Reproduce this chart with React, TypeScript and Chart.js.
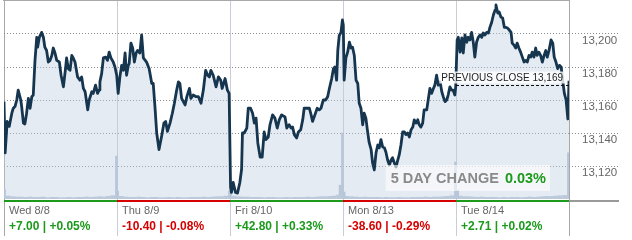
import React, { useEffect, useRef } from "react";
import { Chart, registerables } from "chart.js";

Chart.register(...registerables);

// ---------- data ----------
const dayLabels = ["Wed 8/8", "Thu 8/9", "Fri 8/10", "Mon 8/13", "Tue 8/14"];
// session minutes (390 minutes per trading day)
const dayStarts = [0, 390, 780, 1170, 1560, 1950];
const dayChanges = [7.0, -10.4, 42.8, -38.6, 2.71];
const dayPctChanges = [0.05, -0.08, 0.33, -0.29, 0.02];
const previousClose = 13169;
const fiveDayChangePct = 0.03;
const yTickValues = [13120, 13140, 13160, 13180, 13200];

const times = [
  0, 4, 11, 18, 27, 32, 38, 44, 49, 58, 61, 67, 72, 78, 84, 90, 96, 101, 107, 113, 116, 122, 130, 136, 141, 147, 153, 159, 165, 170, 176, 182, 191, 197, 205, 213, 216, 222, 228, 234, 239, 245, 254, 262, 268, 274, 280, 289, 294, 303, 308, 316, 323, 328, 331, 337, 343, 351, 357, 363, 369, 377, 383, 389,
  394, 400, 406, 412, 418, 423, 429, 432, 438, 444, 450, 456, 461, 469, 475, 481, 492, 501, 510, 515, 521, 527, 535, 544, 552, 558, 564, 573, 581, 588, 596, 602, 607, 613, 625, 631, 640, 645, 653, 663, 671, 680, 688, 696, 703, 709, 714, 722, 732, 740, 748, 753, 763, 771, 777,
  782, 785, 791, 799, 806, 814, 820, 823, 829, 838, 843, 851, 858, 864, 870, 876, 884, 891, 898, 904, 912, 918, 927, 935, 943, 950, 958, 970, 976, 984, 991, 996, 1002, 1010, 1016, 1024, 1031, 1036, 1045, 1054, 1060, 1065, 1073, 1081, 1088, 1094, 1102, 1110, 1117, 1123, 1131, 1137, 1142, 1148, 1152, 1157, 1163, 1168,
  1171, 1174, 1180, 1186, 1192, 1198, 1203, 1209, 1215, 1221, 1226, 1232, 1238, 1243, 1249, 1254, 1260, 1267, 1272, 1278, 1284, 1290, 1295, 1301, 1307, 1313, 1318, 1324, 1330, 1336, 1341, 1347, 1353, 1359, 1364, 1370, 1376, 1382, 1387, 1393, 1399, 1405, 1411, 1416, 1422, 1428, 1433, 1439, 1445, 1450, 1459, 1464, 1470, 1476, 1482, 1487, 1493, 1499, 1505, 1511, 1516, 1522, 1528, 1533, 1539, 1545, 1550, 1556, 1559,
  1564, 1568, 1574, 1580, 1585, 1591, 1597, 1602, 1608, 1614, 1620, 1625, 1631, 1637, 1643, 1649, 1654, 1660, 1666, 1672, 1677, 1683, 1689, 1695, 1698, 1704, 1709, 1715, 1721, 1727, 1733, 1738, 1744, 1750, 1754, 1760, 1766, 1771, 1777, 1783, 1789, 1795, 1800, 1806, 1812, 1818, 1823, 1829, 1835, 1840, 1846, 1852, 1858, 1864, 1870, 1875, 1881, 1888, 1894, 1899, 1905, 1911, 1917, 1923, 1929, 1934, 1940, 1946, 1950,
];

const prices = [
  13159, 13128, 13147, 13144, 13152, 13155, 13156, 13160, 13166, 13160, 13156, 13146, 13145.5, 13152, 13161, 13155, 13162, 13163, 13184, 13198, 13192, 13198, 13201, 13198, 13192, 13190, 13183, 13184, 13187, 13191.5, 13188.5, 13184, 13183, 13175, 13168, 13180, 13185.5, 13179, 13178, 13187, 13185.5, 13183, 13174, 13172, 13174, 13167, 13165, 13154, 13160, 13165, 13164, 13169, 13164, 13166, 13171, 13176, 13185.5, 13186, 13184, 13189, 13185.5, 13183, 13180, 13175,
  13164, 13174, 13181, 13178, 13188.5, 13175, 13181, 13182, 13194.5, 13191.5, 13183, 13188.5, 13190, 13188.5, 13199.4, 13185.5, 13183, 13179, 13170, 13170, 13156, 13140, 13130, 13138, 13146, 13147, 13141, 13146, 13152, 13158, 13166, 13171, 13170, 13161, 13157, 13162, 13167, 13161, 13163, 13162, 13162, 13158, 13166, 13178, 13175, 13174, 13178, 13175, 13168, 13174, 13172, 13167, 13173, 13166, 13164,
  13107, 13104, 13110, 13104, 13103.6, 13110, 13118, 13140, 13140, 13143, 13155, 13155, 13152, 13146, 13149, 13134, 13125.4, 13125.4, 13140.6, 13136, 13137.6, 13145, 13151, 13149, 13143, 13148, 13151, 13149.7, 13143, 13145, 13143, 13143.6, 13139, 13137, 13140.6, 13142, 13148, 13155, 13155, 13155, 13151, 13147, 13151, 13155, 13154, 13155, 13160, 13160, 13162, 13167, 13173, 13179, 13180, 13172, 13190, 13199, 13201, 13208.5,
  13205.4, 13172, 13185.5, 13189, 13195, 13191.5, 13192, 13187, 13172, 13170, 13158, 13155, 13145, 13152, 13149, 13142, 13134.5, 13130, 13122, 13117.6, 13128, 13132.7, 13131, 13136, 13131.5, 13131, 13128.5, 13123.6, 13120.6, 13123.6, 13125, 13122, 13119.4, 13123.6, 13126.7, 13132.7, 13140.6, 13140.6, 13139, 13140, 13137.6, 13142, 13143.6, 13148, 13146, 13148, 13145, 13143.6, 13146, 13154, 13154, 13160, 13167, 13164, 13167, 13169, 13175, 13169, 13171, 13165, 13162, 13159, 13160, 13163, 13168, 13166, 13166, 13163, 13168,
  13196.4, 13198, 13189, 13197.6, 13188.5, 13199.4, 13195, 13198, 13196.4, 13201, 13194.5, 13186, 13195, 13198, 13199.4, 13198, 13200.6, 13199.4, 13201, 13200.6, 13204, 13207, 13211.5, 13214.5, 13217.6, 13212.7, 13213.3, 13210.3, 13209.7, 13204, 13204, 13203.6, 13202.4, 13201, 13194.5, 13193.3, 13191.5, 13194.5, 13191.5, 13189, 13186, 13183, 13184, 13183, 13187, 13186, 13189, 13186, 13191.5, 13187, 13189, 13187, 13183, 13187, 13190, 13186, 13190, 13196.4, 13194.5, 13186, 13183, 13179, 13181, 13180, 13171, 13164, 13160, 13148.5, 13171.7,
];

// volume (millions of shares): opening / closing auction prints
const auctionTimes = [2, 388, 392, 778, 782, 1160, 1168, 1174, 1558, 1566, 1948];
const auctionVolume = [3.0, 13.0, 2.4, 2.4, 1.5, 4.2, 20.0, 2.1, 11.2, 2.7, 14.0];

// volume every 15 minutes within each session
const volumeWed = [0.9, 0.7, 0.6, 0.6, 0.5, 0.6, 0.5, 0.5, 0.6, 0.4, 0.5, 0.5, 0.4, 0.4, 0.5, 0.4, 0.5, 0.5, 0.6, 0.5, 0.6, 0.7, 0.6, 0.8, 1.0];
const volumeThu = [0.8, 0.6, 0.5, 0.5, 0.6, 0.5, 0.4, 0.5, 0.5, 0.4, 0.4, 0.5, 0.4, 0.5, 0.4, 0.4, 0.5, 0.5, 0.5, 0.6, 0.5, 0.6, 0.7, 0.7, 0.9];
const volumeFri = [0.9, 0.7, 0.6, 0.6, 0.5, 0.5, 0.5, 0.4, 0.5, 0.5, 0.4, 0.4, 0.5, 0.4, 0.5, 0.5, 0.5, 0.6, 0.5, 0.6, 0.7, 0.7, 0.8, 0.9, 1.2];
const volumeMon = [0.8, 0.7, 0.6, 0.5, 0.6, 0.5, 0.5, 0.5, 0.4, 0.5, 0.4, 0.4, 0.5, 0.4, 0.4, 0.5, 0.5, 0.5, 0.6, 0.5, 0.6, 0.6, 0.7, 0.8, 1.0];
const volumeTue = [0.9, 0.7, 0.7, 0.6, 0.5, 0.6, 0.5, 0.5, 0.5, 0.4, 0.5, 0.4, 0.5, 0.5, 0.4, 0.5, 0.6, 0.5, 0.6, 0.7, 0.8, 0.8, 0.9, 1.0, 1.1];

// ---------- styling ----------
const FONT = '"Liberation Sans", Arial, Helvetica, sans-serif';
const GREEN = "#1c9a1c";
const RED = "#d60000";

const fmtChange = (v: number, pct: number) => {
  const s = v >= 0 ? "+" : "-";
  return `${s}${Math.abs(v).toFixed(2)} | ${s}${Math.abs(pct).toFixed(2)}%`;
};

const overlayPlugin = {
  id: "overlay",
  afterDatasetsDraw(chart: any) {
    const { ctx, chartArea: a, scales } = chart;
    const xs = scales.x;
    const ys = scales.y;
    ctx.save();
    // previous close line + label
    const py = Math.round(ys.getPixelForValue(previousClose)) + 0.5;
    ctx.strokeStyle = "#111";
    ctx.lineWidth = 1;
    ctx.setLineDash([3, 2]);
    ctx.beginPath();
    ctx.moveTo(xs.getPixelForValue(dayStarts[4]), py);
    ctx.lineTo(a.right, py);
    ctx.stroke();
    ctx.setLineDash([]);
    ctx.font = `10px ${FONT}`;
    const label = "PREVIOUS CLOSE " + previousClose.toLocaleString("en-US");
    const w = ctx.measureText(label).width;
    const tx = a.right - 6 - w;
    ctx.fillStyle = "rgba(255,255,255,0.8)";
    ctx.fillRect(tx - 2, py - 14, w + 4, 12);
    ctx.fillStyle = "#222";
    ctx.textBaseline = "alphabetic";
    ctx.textAlign = "left";
    ctx.fillText(label, tx, py - 5);

    // 5 day change box
    ctx.font = `bold 14.5px ${FONT}`;
    const t1 = "5 DAY CHANGE";
    const t2 = fiveDayChangePct.toFixed(2) + "%";
    const w1 = ctx.measureText(t1).width;
    const w2 = ctx.measureText(t2).width;
    const gap = 6;
    const textRight = a.right - 23;
    const textLeft = textRight - (w1 + gap + w2);
    const boxRight = a.right - 19;
    const boxLeft = textLeft - 5;
    ctx.fillStyle = "rgba(255,255,255,0.6)";
    ctx.fillRect(boxLeft, a.bottom - 34, boxRight - boxLeft, 26);
    const by = a.bottom - 16.5;
    ctx.fillStyle = "#8a8a8a";
    ctx.fillText(t1, textLeft, by);
    ctx.fillStyle = fiveDayChangePct >= 0 ? GREEN : RED;
    ctx.fillText(t2, textLeft + w1 + gap, by);
    ctx.restore();
  },
  afterDraw(chart: any) {
    const { ctx, chartArea: a, scales } = chart;
    const xs = scales.x;
    ctx.save();
    // top border
    ctx.fillStyle = "#a8a8a8";
    ctx.fillRect(a.left - 1, 0, a.right - a.left + 2, 1);
    // coloured day baseline + labels
    for (let i = 0; i < dayLabels.length; i++) {
      const x0 = xs.getPixelForValue(dayStarts[i]);
      const x1 = xs.getPixelForValue(dayStarts[i + 1]);
      const col = dayChanges[i] >= 0 ? GREEN : RED;
      ctx.fillStyle = col;
      ctx.fillRect(x0, a.bottom + 1, x1 - x0, 2);
      ctx.textAlign = "left";
      ctx.textBaseline = "alphabetic";
      ctx.font = `11px ${FONT}`;
      ctx.fillStyle = "#666";
      ctx.fillText(dayLabels[i], x0 + 5, a.bottom + 15);
      ctx.font = `bold 12px ${FONT}`;
      ctx.fillStyle = col;
      ctx.fillText(fmtChange(dayChanges[i], dayPctChanges[i]), x0 + 5, a.bottom + 31);
    }
    ctx.fillStyle = "#9a9a9a";
    ctx.fillRect(a.right, a.bottom + 1, 50, 2);
    ctx.restore();
  },
};

export default function App() {
  const ref = useRef<HTMLCanvasElement>(null);
  useEffect(() => {
    document.body.style.margin = "0";
    const priceData = times.map((t, i) => ({ x: t, y: prices[i] }));
    const dayVols = [volumeWed, volumeThu, volumeFri, volumeMon, volumeTue];
    const intervalVol: { x: number; y: number }[] = [];
    dayVols.forEach((arr, d) =>
      arr.forEach((v, i) => intervalVol.push({ x: dayStarts[d] + 15 * (i + 1), y: v }))
    );
    const auctionVol = auctionTimes.map((t, i) => ({ x: t, y: auctionVolume[i] }));

    const chart = new Chart(ref.current as HTMLCanvasElement, {
      type: "line",
      data: {
        datasets: [
          {
            type: "line",
            data: priceData,
            borderColor: "#16354f",
            borderWidth: 2.8,
            borderJoinStyle: "round",
            pointRadius: 0,
            tension: 0,
            fill: "start",
            backgroundColor: "rgba(190,205,225,0.4)",
            yAxisID: "y",
            order: 1,
          } as any,
          {
            type: "bar",
            data: intervalVol,
            backgroundColor: "#b9c7d6",
            barThickness: 4,
            grouped: false,
            yAxisID: "yv",
            order: 2,
          } as any,
          {
            type: "bar",
            data: auctionVol,
            backgroundColor: "#b3c2d2",
            barThickness: 2,
            grouped: false,
            yAxisID: "yv",
            order: 2,
          } as any,
        ],
      },
      options: {
        responsive: false,
        animation: false,
        devicePixelRatio: 1,
        layout: { padding: { left: 4, top: 1, right: 0, bottom: 0 } },
        plugins: { legend: { display: false }, tooltip: { enabled: false } },
        font: { family: FONT },
        scales: {
          x: {
            type: "linear",
            min: dayStarts[0],
            max: dayStarts[dayStarts.length - 1],
            offset: false,
            afterBuildTicks: (s: any) => {
              s.ticks = dayStarts.map((v) => ({ value: v }));
            },
            afterFit: (s: any) => {
              s.height = 41;
            },
            ticks: { display: false },
            border: { display: false },
            grid: {
              offset: false,
              drawTicks: true,
              tickLength: 37,
              color: (c: any) =>
                c.index === 0 || c.index === dayStarts.length - 1 ? "#a8a8a8" : "#c9ced6",
              lineWidth: 1,
            },
          } as any,
          y: {
            type: "linear",
            position: "right",
            min: 13100,
            max: 13220,
            afterBuildTicks: (s: any) => {
              s.ticks = yTickValues.map((v) => ({ value: v }));
            },
            afterFit: (s: any) => {
              s.width = 63;
            },
            border: { display: false, dash: [1, 2] },
            grid: {
              color: "#8c8c8c",
              lineWidth: 1,
              drawTicks: true,
              tickLength: 50,
              tickBorderDash: [1, 2],
              tickColor: "#8c8c8c",
            },
            ticks: {
              padding: -37,
              crossAlign: "near",
              labelOffset: 7,
              color: "#666",
              font: { family: FONT, size: 11.5 },
              callback: (v: any) => Number(v).toLocaleString("en-US"),
            },
          } as any,
          yv: {
            type: "linear",
            display: false,
            min: 0,
            max: 60,
          },
        },
      },
      plugins: [overlayPlugin],
    } as any);
    return () => chart.destroy();
  }, []);
  return (
    <div style={{ position: "absolute", left: 0, top: 0, width: 632, height: 240 }}>
      <canvas ref={ref} width={632} height={240} style={{ display: "block" }} />
    </div>
  );
}
